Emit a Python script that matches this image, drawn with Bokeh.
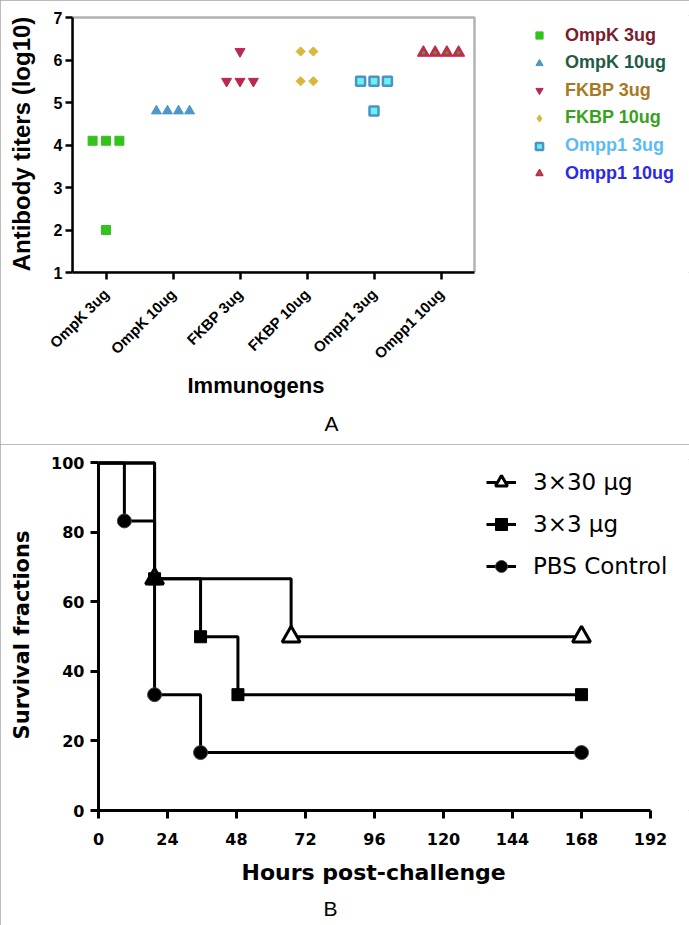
import math
from bokeh.plotting import figure
from bokeh.models import FixedTicker, Legend, LegendItem, Range1d, BoxAnnotation, Title
from bokeh.embed import file_html
from bokeh.resources import INLINE

# ---------------- Panel A data ----------------
immunogens = ["OmpK 3ug", "OmpK 10ug", "FKBP 3ug", "FKBP 10ug", "Ompp1 3ug", "Ompp1 10ug"]
titers_ompk_3 = [4.1, 4.1, 4.1, 2.0]
titers_ompk_10 = [4.8, 4.8, 4.8, 4.8]
titers_fkbp_3 = [6.2, 5.5, 5.5, 5.5]
titers_fkbp_10 = [6.2, 6.2, 5.5, 5.5]
titers_ompp1_3 = [5.5, 5.5, 5.5, 4.8]
titers_ompp1_10 = [6.17, 6.17, 6.17, 6.17]
titer_ticks = [1, 2, 3, 4, 5, 6, 7]

# ---------------- Panel B data ----------------
hour_ticks = [0, 24, 48, 72, 96, 120, 144, 168, 192]
survival_ticks = [0, 20, 40, 60, 80, 100]
hours_30ug = [0, 19.5, 67, 168]
surv_30ug = [100, 66.67, 50, 50]
hours_3ug = [0, 19.5, 35.5, 48.5, 168]
surv_3ug = [100, 66.67, 50, 33.33, 33.33]
hours_pbs = [0, 9, 19.5, 35.5, 168]
surv_pbs = [100, 83.33, 33.33, 16.67, 16.67]
series_b = ["3\u00d730 \u03bcg", "3\u00d73 \u03bcg", "PBS Control"]


def spread(vals, step):
    counts = {}
    for v in vals:
        counts[v] = counts.get(v, 0) + 1
    seen = {}
    out = []
    for v in vals:
        n = counts[v]
        k = seen.get(v, 0)
        seen[v] = k + 1
        out.append((k - (n - 1) / 2.0) * step)
    return out


FONT_A = "Liberation Sans"
W = 689
PANEL_EDGE = {"outline": "1px solid #a6a6a6", "outline-offset": "-1px"}

# ---- Panel A layout (pixels) ----
A_H = 444
A_LEFT, A_BOX_RIGHT, A_TOP, A_BOTTOM = 72, 474, 15, 272
x_lo, x_hi = 0.5, len(immunogens) + 0.5
y_lo, y_hi = titer_ticks[0], titer_ticks[-1]
px_x = (A_BOX_RIGHT - A_LEFT) / (x_hi - x_lo)
px_y = (A_BOTTOM - 17) / (y_hi - y_lo)
x_end = x_hi + (W - A_BOX_RIGHT) / px_x
y_end = y_hi + 2 / px_y

pa = figure(width=W, height=A_H, output_backend="svg", toolbar_location=None,
            title_location=None, styles=PANEL_EDGE,
            x_range=Range1d(x_lo, x_end), y_range=Range1d(y_lo, y_end),
            min_border_left=A_LEFT, min_border_right=0, min_border_top=A_TOP,
            min_border_bottom=A_H - A_BOTTOM)
pa.grid.visible = False
pa.outline_line_color = None
pa.background_fill_color = "white"
pa.border_fill_color = "white"
pa.add_layout(BoxAnnotation(left=x_lo, right=x_hi, bottom=y_lo, top=y_hi, fill_alpha=0,
                            line_color="black", line_width=2.5))

styles_a = [
    dict(marker="square", fill="#33c41c", line="#33c41c", lw=1, size=9, step=0.2, angle=0.0),
    dict(marker="triangle", fill="#4d97c9", line="#4d97c9", lw=1, size=10, step=0.165, angle=0.0),
    dict(marker="inverted_triangle", fill="#b8294d", line="#b8294d", lw=1, size=10, step=0.2, angle=0.0),
    dict(marker="square", fill="#d8b83c", line="#d8b83c", lw=1, size=6.5, step=0.19, angle=math.pi / 4),
    dict(marker="square", fill="#6af2ee", line="#4d92c6", lw=2.5, size=9, step=0.2, angle=0.0),
    dict(marker="triangle", fill="#c12b50", line="#c12b50", lw=1.2, size=12, step=0.175, angle=0.0),
]
legend_text_colors = ["#7b1c2e", "#1f5c45", "#a87a1e", "#3aa11e", "#5bbcf5", "#2a2ae6"]
all_titers = [titers_ompk_3, titers_ompk_10, titers_fkbp_3, titers_fkbp_10, titers_ompp1_3, titers_ompp1_10]

for i, (name, vals, st, tc) in enumerate(zip(immunogens, all_titers, styles_a, legend_text_colors)):
    xs = [i + 1 + o for o in spread(vals, st["step"])]
    r = pa.scatter(xs, vals, marker=st["marker"], size=st["size"], fill_color=st["fill"],
                   line_color=st["line"], line_width=st["lw"], angle=st["angle"])
    rends = [r]
    if i == 5:
        rd = pa.scatter(xs, vals, marker="dot", size=st["size"] + 2, fill_color="#5a9a28",
                        line_color="#5a9a28", line_width=2)
        rends.append(rd)
    if st["angle"] != 0.0:
        # legend glyphs are never rotated: a key-only diamond (no drawable point)
        rends = [pa.scatter(x=[float("nan")], y=[float("nan")], marker="diamond",
                            fill_color=st["fill"], line_color=st["line"], line_width=st["lw"])]
    row_center = 35 + 27.65 * i
    leg = Legend(items=[LegendItem(label=name, renderers=rends)],
                 location=(530 - A_LEFT, A_BOTTOM - (row_center + 10.5)),
                 padding=0, margin=0, border_line_alpha=0, background_fill_alpha=0,
                 glyph_width=18, glyph_height=18, label_standoff=17, label_height=18,
                 label_text_font=FONT_A, label_text_font_style="bold",
                 label_text_font_size="18px", label_text_color=tc)
    pa.add_layout(leg)

pa.xaxis.ticker = FixedTicker(ticks=[1, 2, 3, 4, 5, 6])
pa.xaxis.major_label_overrides = {i + 1: n for i, n in enumerate(immunogens)}
pa.xaxis.major_label_orientation = math.pi / 4
pa.xaxis.bounds = (x_lo, x_hi)
pa.yaxis.ticker = FixedTicker(ticks=titer_ticks)
pa.yaxis.bounds = (y_lo, y_hi)
pa.xaxis.minor_tick_line_color = None
pa.yaxis.minor_tick_line_color = None
for ax in (pa.xaxis[0], pa.yaxis[0]):
    ax.axis_line_width = 2.5
    ax.axis_line_color = "black"
    ax.major_tick_line_width = 2.5
    ax.major_tick_line_color = "black"
    ax.major_tick_in = 0
    ax.major_tick_out = 7
    ax.major_label_text_font = FONT_A
    ax.major_label_text_font_style = "bold"
    ax.major_label_text_color = "black"
    ax.axis_label_text_font = FONT_A
    ax.axis_label_text_font_style = "bold"
    ax.axis_label_text_color = "black"
pa.yaxis.major_label_text_font_size = "16px"
pa.xaxis.major_label_text_font_size = "15px"
pa.yaxis.major_label_standoff = 3
pa.xaxis.major_label_standoff = 12
pa.yaxis.axis_label = "Antibody titers (log10)"
pa.yaxis.axis_label_text_font_size = "24px"
pa.yaxis.axis_label_standoff = 16

pa.add_layout(Title(text="Immunogens", align="left", offset=115, standoff=4, vertical_align="top",
                    text_font=FONT_A, text_font_style="bold", text_font_size="22px",
                    text_color="black"), "below")
pa.add_layout(Title(text="A", align="left", offset=252, standoff=16,
                    text_font=FONT_A, text_font_style="normal", text_font_size="21px",
                    text_color="black"), "below")

# ---------------- Panel B ----------------
FONT_B = "DejaVu Sans"
B_PAGE = 444
B_H = 925 - B_PAGE
B_LEFT, B_AX_RIGHT = 98, 650
B_Y0, B_Y100 = 810 - B_PAGE, 462.5 - B_PAGE
bx_lo, bx_hi = hour_ticks[0], hour_ticks[-1]
by_lo, by_hi = survival_ticks[0], survival_ticks[-1]
bpx_x = (B_AX_RIGHT - B_LEFT) / (bx_hi - bx_lo)
bpx_y = (B_Y0 - B_Y100) / (by_hi - by_lo)
bx_end = bx_hi + (W - B_AX_RIGHT) / bpx_x
by_end = by_hi + 1

pb = figure(width=W, height=B_H, output_backend="svg", toolbar_location=None,
            title_location=None, styles=PANEL_EDGE,
            x_range=Range1d(bx_lo, bx_end), y_range=Range1d(by_lo, by_end),
            min_border_left=B_LEFT, min_border_right=0,
            min_border_top=round(B_Y100 - 1 * bpx_y), min_border_bottom=B_H - B_Y0)
pb.grid.visible = False
pb.outline_line_color = None
pb.background_fill_color = "white"
pb.border_fill_color = "white"

r30_line = pb.step(hours_30ug, surv_30ug, mode="after", line_width=3, line_color="black")
r3_line = pb.step(hours_3ug, surv_3ug, mode="after", line_width=3, line_color="black")
rp_line = pb.step(hours_pbs, surv_pbs, mode="after", line_width=3, line_color="black")
r30_pts = pb.scatter(hours_30ug[1:], surv_30ug[1:], marker="triangle", size=18,
                     fill_color="white", line_color="black", line_width=3)
r3_pts = pb.scatter(hours_3ug[1:], surv_3ug[1:], marker="square", size=12,
                    fill_color="black", line_color="black", line_width=1)
rp_pts = pb.scatter(hours_pbs[1:], surv_pbs[1:], marker="circle", size=14,
                    fill_color="black", line_color="#444444", line_width=1)

leg_b = Legend(items=[LegendItem(label=series_b[0], renderers=[r30_line, r30_pts]),
                      LegendItem(label=series_b[1], renderers=[r3_line, r3_pts]),
                      LegendItem(label=series_b[2], renderers=[rp_line, rp_pts])],
               location=(486 - B_LEFT, 810 - 581), padding=0, margin=0, spacing=12,
               border_line_alpha=0, background_fill_alpha=0,
               glyph_width=30, glyph_height=30, label_standoff=17, label_height=30,
               label_text_font=FONT_B, label_text_font_size="23px", label_text_color="black")
pb.add_layout(leg_b)

pb.xaxis.ticker = FixedTicker(ticks=hour_ticks)
pb.xaxis.bounds = (bx_lo, bx_hi)
pb.yaxis.ticker = FixedTicker(ticks=survival_ticks)
pb.yaxis.bounds = (by_lo, by_hi)
for ax in (pb.xaxis[0], pb.yaxis[0]):
    ax.axis_line_width = 3
    ax.axis_line_color = "black"
    ax.major_tick_line_width = 3
    ax.major_tick_line_color = "black"
    ax.major_tick_in = 0
    ax.major_tick_out = 8
    ax.minor_tick_line_color = None
    ax.major_label_text_font = FONT_B
    ax.major_label_text_font_style = "bold"
    ax.major_label_text_font_size = "16px"
    ax.major_label_text_color = "black"
    ax.axis_label_text_font = FONT_B
    ax.axis_label_text_font_style = "bold"
    ax.axis_label_text_color = "black"
pb.yaxis.major_label_standoff = 6
pb.xaxis.major_label_standoff = 14
pb.yaxis.axis_label = "Survival fractions"
pb.yaxis.axis_label_text_font_size = "21px"
pb.yaxis.axis_label_standoff = 14

pb.add_layout(Title(text="Hours post-challenge", align="left", offset=241 - B_LEFT, standoff=20,
                    text_font=FONT_B, text_font_style="bold", text_font_size="22px",
                    text_color="black"), "below")
pb.add_layout(Title(text="B", align="left", offset=323 - B_LEFT, standoff=0,
                    text_font=FONT_A, text_font_style="normal", text_font_size="21px",
                    text_color="black"), "below")

open("out.html", "w").write(file_html([pa, pb], INLINE))
